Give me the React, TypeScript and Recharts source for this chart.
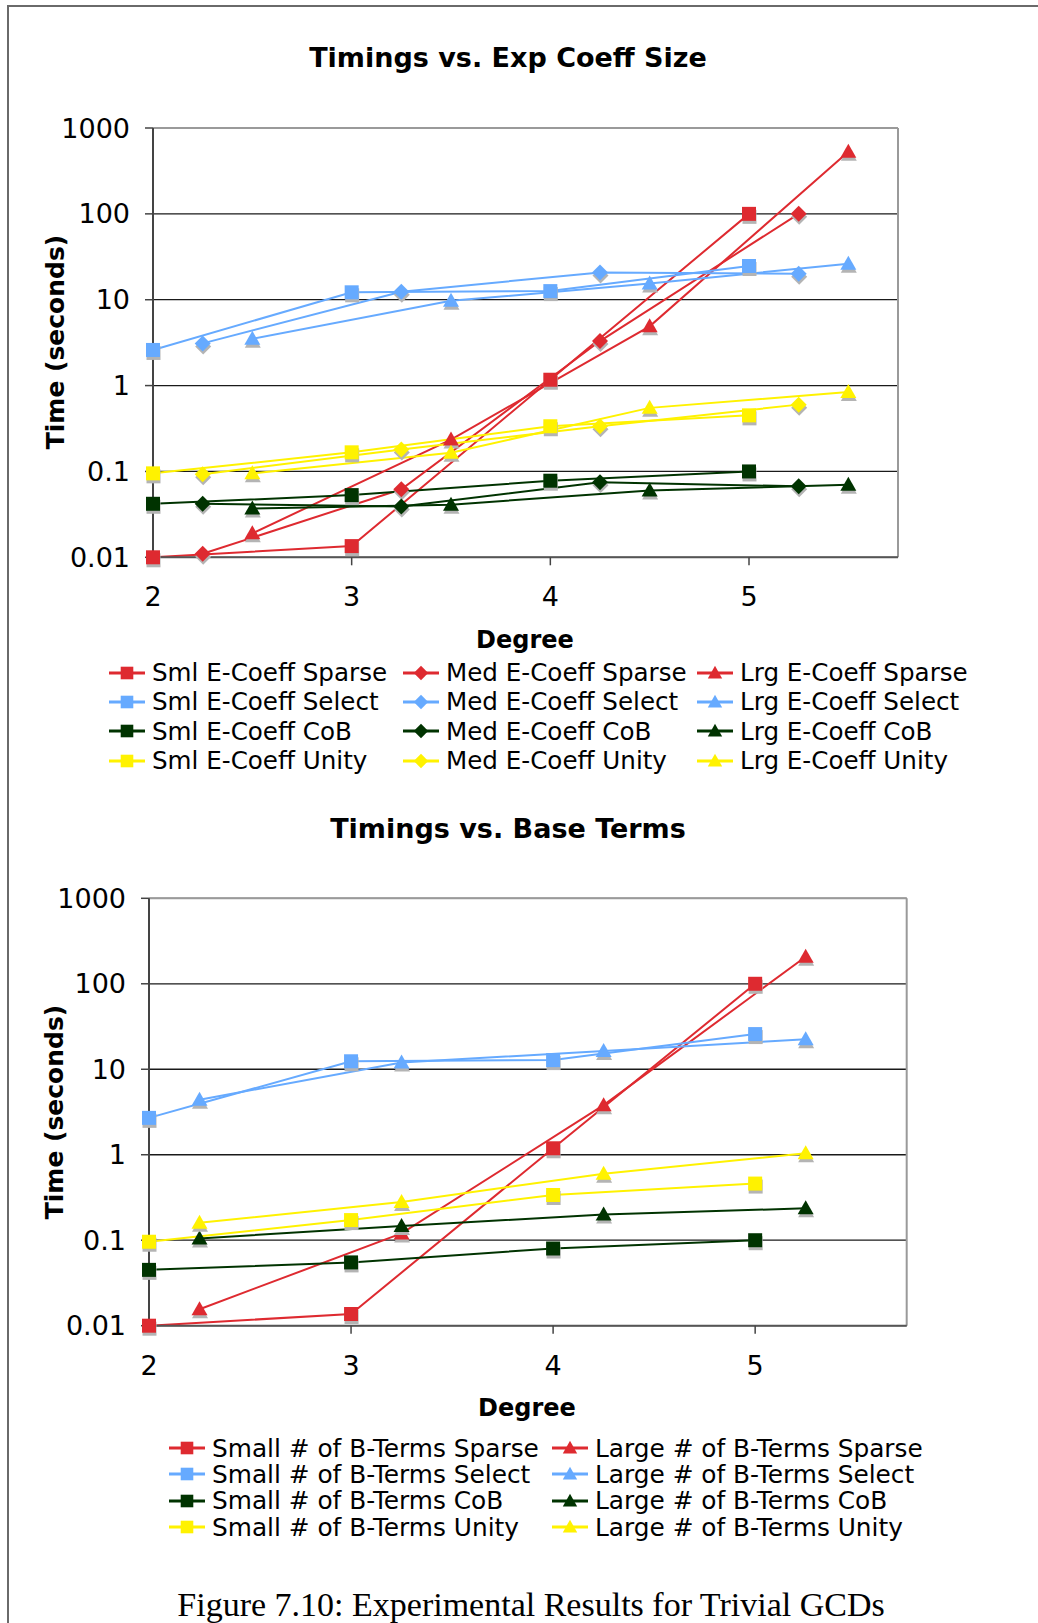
import { CartesianGrid, Line, LineChart, ReferenceLine, XAxis, YAxis } from "recharts";

type Shape = "square" | "diamond" | "triangle";
type Series = { name: string; x: number[]; y: number[]; color: string; shape: Shape };

const RED = "#de2a30";
const BLUE = "#66aaff";
const GREEN = "#003300";
const YELLOW = "#fff200";

const sans = "'DejaVu Sans', Verdana, sans-serif";

const timeTicks = [0.01, 0.1, 1, 10, 100, 1000];
const degreeTicks = [2, 3, 4, 5];

// --- Timings vs. Exp Coeff Size ---
const smlDeg = [2, 3, 4, 5];
const medDeg = [2.25, 3.25, 4.25, 5.25];
const lrgDeg = [2.5, 3.5, 4.5, 5.5];

const smlSparse = [0.01, 0.0135, 1.17, 100];
const medSparse = [0.011, 0.062, 3.3, 100];
const lrgSparse = [0.019, 0.235, 4.9, 530];
const smlSelect = [2.6, 12.2, 12.6, 24.7];
const medSelect = [3.1, 12.4, 20.8, 20.1];
const lrgSelect = [3.5, 9.7, 15.4, 26.3];
const smlCoB = [0.042, 0.053, 0.078, 0.1];
const medCoB = [0.042, 0.039, 0.075, 0.067];
const lrgCoB = [0.037, 0.041, 0.06, 0.07];
const smlUnity = [0.095, 0.167, 0.336, 0.45];
const medUnity = [0.093, 0.18, 0.336, 0.6];
const lrgUnity = [0.095, 0.165, 0.55, 0.84];

// --- Timings vs. Base Terms ---
const smallDeg = [2, 3, 4, 5];
const largeDeg = [2.25, 3.25, 4.25, 5.25];

const smallSparse = [0.01, 0.0137, 1.19, 100];
const largeSparse = [0.0156, 0.12, 3.8, 207];
const smallSelect = [2.7, 12.4, 12.8, 25.8];
const largeSelect = [4.4, 12, 16.4, 22.4];
const smallCoB = [0.045, 0.055, 0.08, 0.1];
const largeCoB = [0.105, 0.147, 0.2, 0.236];
const smallUnity = [0.096, 0.172, 0.338, 0.46];
const largeUnity = [0.16, 0.28, 0.6, 1.04];

const coeffSeries: Series[] = [
  { name: "Sml E-Coeff Sparse", x: smlDeg, y: smlSparse, color: RED, shape: "square" },
  { name: "Med E-Coeff Sparse", x: medDeg, y: medSparse, color: RED, shape: "diamond" },
  { name: "Lrg E-Coeff Sparse", x: lrgDeg, y: lrgSparse, color: RED, shape: "triangle" },
  { name: "Sml E-Coeff Select", x: smlDeg, y: smlSelect, color: BLUE, shape: "square" },
  { name: "Med E-Coeff Select", x: medDeg, y: medSelect, color: BLUE, shape: "diamond" },
  { name: "Lrg E-Coeff Select", x: lrgDeg, y: lrgSelect, color: BLUE, shape: "triangle" },
  { name: "Sml E-Coeff CoB", x: smlDeg, y: smlCoB, color: GREEN, shape: "square" },
  { name: "Med E-Coeff CoB", x: medDeg, y: medCoB, color: GREEN, shape: "diamond" },
  { name: "Lrg E-Coeff CoB", x: lrgDeg, y: lrgCoB, color: GREEN, shape: "triangle" },
  { name: "Sml E-Coeff Unity", x: smlDeg, y: smlUnity, color: YELLOW, shape: "square" },
  { name: "Med E-Coeff Unity", x: medDeg, y: medUnity, color: YELLOW, shape: "diamond" },
  { name: "Lrg E-Coeff Unity", x: lrgDeg, y: lrgUnity, color: YELLOW, shape: "triangle" },
];

const termSeries: Series[] = [
  { name: "Small # of B-Terms Sparse", x: smallDeg, y: smallSparse, color: RED, shape: "square" },
  { name: "Large # of B-Terms Sparse", x: largeDeg, y: largeSparse, color: RED, shape: "triangle" },
  { name: "Small # of B-Terms Select", x: smallDeg, y: smallSelect, color: BLUE, shape: "square" },
  { name: "Large # of B-Terms Select", x: largeDeg, y: largeSelect, color: BLUE, shape: "triangle" },
  { name: "Small # of B-Terms CoB", x: smallDeg, y: smallCoB, color: GREEN, shape: "square" },
  { name: "Large # of B-Terms CoB", x: largeDeg, y: largeCoB, color: GREEN, shape: "triangle" },
  { name: "Small # of B-Terms Unity", x: smallDeg, y: smallUnity, color: YELLOW, shape: "square" },
  { name: "Large # of B-Terms Unity", x: largeDeg, y: largeUnity, color: YELLOW, shape: "triangle" },
];

function markerPath(shape: Shape, cx: number, cy: number, k = 1) {
  if (shape === "square") {
    const h = 7 * k;
    return `M${cx - h},${cy - h}h${2 * h}v${2 * h}h${-2 * h}Z`;
  }
  if (shape === "diamond") {
    const h = 8 * k;
    return `M${cx},${cy - h}L${cx + h},${cy}L${cx},${cy + h}L${cx - h},${cy}Z`;
  }
  const w = 8 * k;
  return `M${cx},${cy - 8 * k}L${cx + w},${cy + 6 * k}L${cx - w},${cy + 6 * k}Z`;
}

// marker with the soft grey drop shadow underneath
const dotFor = (s: Series) => (p: any) => {
  const key = `${s.name}-${p.index}`;
  if (p.cx == null || p.cy == null) return <g key={key} />;
  return (
    <g key={key}>
      <path d={markerPath(s.shape, p.cx + 0.5, p.cy + 3)} fill="#b4b4b4" />
      <path d={markerPath(s.shape, p.cx, p.cy)} fill={s.color} />
    </g>
  );
};

function TimingChart(props: {
  series: Series[];
  top: number;
  plotTop: number;
  plotBottom: number;
  plotLeft: number;
  plotRight: number;
}) {
  const { series, top, plotTop, plotBottom, plotLeft, plotRight } = props;
  const width = 1038;
  const height = 620;
  const xAxisH = 60;
  const margin = {
    top: plotTop - top,
    right: width - plotRight,
    bottom: height - (plotBottom - top) - xAxisH,
    left: 0,
  };
  return (
    <div style={{ position: "absolute", left: 0, top, width, height }}>
      <LineChart width={width} height={height} margin={margin}>
        <CartesianGrid vertical={false} stroke="#1a1a1a" strokeWidth={1.3} />
        <XAxis
          type="number"
          dataKey="x"
          domain={[2, 5.75]}
          ticks={degreeTicks}
          height={xAxisH}
          tickSize={8}
          tickMargin={22}
          axisLine={{ stroke: "#555", strokeWidth: 2 }}
          tickLine={{ stroke: "#444", strokeWidth: 1.5 }}
          tick={{ fill: "#000", fontSize: 27, fontFamily: sans }}
        />
        <YAxis
          type="number"
          dataKey="y"
          scale="log"
          domain={[0.01, 1000]}
          ticks={timeTicks}
          width={plotLeft}
          tickSize={8}
          tickMargin={15}
          tickFormatter={(v: number) => String(v)}
          axisLine={{ stroke: "#444", strokeWidth: 2 }}
          tickLine={{ stroke: "#444", strokeWidth: 1.5 }}
          tick={{ fill: "#000", fontSize: 27, fontFamily: sans }}
        />
        <ReferenceLine y={1000} stroke="#9a9a9a" strokeWidth={2} />
        <ReferenceLine x={5.75} stroke="#9a9a9a" strokeWidth={2} />
        {series.map((s) => (
          <Line
            key={s.name}
            name={s.name}
            data={s.x.map((x, i) => ({ x, y: s.y[i] }))}
            dataKey="y"
            type="linear"
            stroke={s.color}
            strokeWidth={2}
            dot={dotFor(s)}
            activeDot={false}
            isAnimationActive={false}
          />
        ))}
      </LineChart>
    </div>
  );
}

function LegendIcon({ s }: { s: Series }) {
  return (
    <svg width={36} height={20} style={{ flex: "none" }}>
      <line x1={0} y1={10} x2={36} y2={10} stroke={s.color} strokeWidth={3} />
      <path d={markerPath(s.shape, 18, 10, 0.9)} fill={s.color} />
    </svg>
  );
}

function LegendGrid(props: {
  series: Series[];
  left: number;
  top: number;
  cols: number;
  colWidth: number;
  rowHeight: number;
  fontSize: number;
}) {
  const { series, left, top, cols, colWidth, rowHeight, fontSize } = props;
  return (
    <div
      style={{
        position: "absolute",
        left,
        top,
        display: "grid",
        gridTemplateColumns: `repeat(${cols}, ${colWidth}px)`,
        gridAutoRows: rowHeight,
        fontFamily: sans,
        fontSize,
        color: "#000",
      }}
    >
      {series.map((s) => (
        <div key={s.name} style={{ display: "flex", alignItems: "center", whiteSpace: "nowrap" }}>
          <LegendIcon s={s} />
          <span style={{ marginLeft: 7 }}>{s.name}</span>
        </div>
      ))}
    </div>
  );
}

function Centered(props: { x: number; y: number; size: number; bold?: boolean; serif?: boolean; rotate?: boolean; children: string }) {
  const { x, y, size, bold, serif, rotate, children } = props;
  return (
    <div
      style={{
        position: "absolute",
        left: x,
        top: y,
        transform: `translate(-50%, -50%)${rotate ? " rotate(-90deg)" : ""}`,
        fontFamily: serif ? "'Liberation Serif', 'DejaVu Serif', serif" : sans,
        fontWeight: bold ? "bold" : "normal",
        fontSize: size,
        lineHeight: 1,
        whiteSpace: "nowrap",
        color: "#000",
      }}
    >
      {children}
    </div>
  );
}

export default function App() {
  return (
    <div style={{ position: "absolute", left: 0, top: 0, width: 1038, height: 1623, background: "#fff", overflow: "hidden" }}>
      <div
        style={{
          position: "absolute",
          left: 7,
          top: 5,
          width: 1040,
          height: 1630,
          borderTop: "2px solid #6a6a6a",
          borderLeft: "2px solid #6a6a6a",
        }}
      />

      <Centered x={508} y={57} size={27} bold>Timings vs. Exp Coeff Size</Centered>
      <TimingChart series={coeffSeries} top={0} plotTop={128} plotBottom={557.3} plotLeft={153} plotRight={898} />
      <Centered x={55} y={342} size={25} bold rotate>Time (seconds)</Centered>
      <Centered x={525} y={640} size={24} bold>Degree</Centered>
      <LegendGrid series={coeffSeries} left={109} top={658} cols={3} colWidth={294} rowHeight={29.3} fontSize={24.6} />

      <Centered x={508} y={828} size={27} bold>Timings vs. Base Terms</Centered>
      <TimingChart series={termSeries} top={770} plotTop={898.3} plotBottom={1325.7} plotLeft={149} plotRight={906.7} />
      <Centered x={54} y={1112} size={25} bold rotate>Time (seconds)</Centered>
      <Centered x={527} y={1408} size={24} bold>Degree</Centered>
      <LegendGrid series={termSeries} left={169} top={1435} cols={2} colWidth={383} rowHeight={26.3} fontSize={24.8} />

      <Centered x={531} y={1605} size={34} serif>Figure 7.10: Experimental Results for Trivial GCDs</Centered>
    </div>
  );
}
